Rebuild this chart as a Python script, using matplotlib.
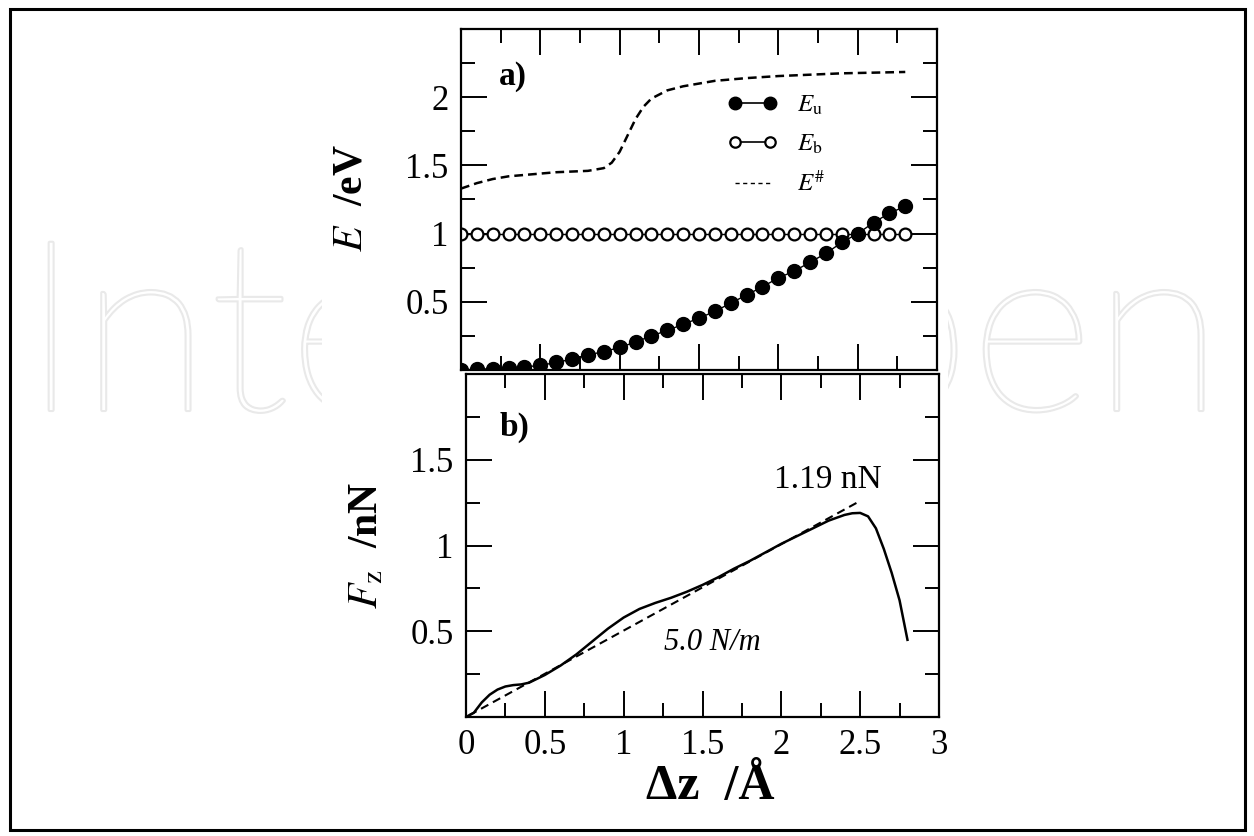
import matplotlib.pyplot as plt
import matplotlib.patheffects as pe
from matplotlib.patches import Rectangle
from matplotlib.lines import Line2D

plt.rcParams['font.family'] = ['Liberation Serif', 'DejaVu Serif']
plt.rcParams['mathtext.fontset'] = 'stix'

# panel a) energies vs displacement
dz_a = [0.0, 0.1, 0.2, 0.3, 0.4, 0.5, 0.6, 0.7, 0.8, 0.9, 1.0, 1.1, 1.2, 1.3, 1.4,
        1.5, 1.6, 1.7, 1.8, 1.9, 2.0, 2.1, 2.2, 2.3, 2.4, 2.5, 2.6, 2.7, 2.8]
E_u = [0.0, 0.005, 0.01, 0.015, 0.022, 0.034, 0.055, 0.08, 0.11, 0.135, 0.165,
       0.205, 0.25, 0.29, 0.335, 0.38, 0.43, 0.49, 0.55, 0.61, 0.675, 0.725,
       0.79, 0.855, 0.935, 1.0, 1.08, 1.15, 1.2]
E_b = [1.0] * len(dz_a)

dz_sharp = [0.0, 0.1, 0.2, 0.3, 0.4, 0.5, 0.6, 0.7, 0.8, 0.9, 0.95, 1.0, 1.05, 1.1,
            1.15, 1.2, 1.3, 1.4, 1.5, 1.6, 1.8, 2.0, 2.2, 2.4, 2.6, 2.8]
E_sharp = [1.33, 1.37, 1.40, 1.42, 1.43, 1.44, 1.45, 1.455, 1.46, 1.48, 1.52, 1.6,
           1.72, 1.84, 1.93, 1.99, 2.05, 2.08, 2.1, 2.12, 2.14, 2.155, 2.165,
           2.175, 2.18, 2.185]

# panel b) force vs displacement
dz_b = [0.0, 0.05, 0.1, 0.15, 0.2, 0.25, 0.3, 0.35, 0.4, 0.5, 0.6, 0.7, 0.8, 0.9,
        1.0, 1.1, 1.2, 1.3, 1.4, 1.5, 1.6, 1.7, 1.8, 1.9, 2.0, 2.1, 2.2, 2.3, 2.4,
        2.45, 2.5, 2.55, 2.6, 2.65, 2.7, 2.75, 2.8]
F_z = [0.0, 0.025, 0.085, 0.13, 0.16, 0.178, 0.186, 0.19, 0.2, 0.245, 0.3, 0.365,
       0.44, 0.515, 0.58, 0.63, 0.665, 0.695, 0.73, 0.77, 0.815, 0.865, 0.91,
       0.96, 1.01, 1.055, 1.1, 1.145, 1.178, 1.188, 1.19, 1.17, 1.1, 0.98, 0.84,
       0.68, 0.45]
fit_x = [0.02, 2.5]
fit_F = [0.01, 1.26]

x_ticks = [0, 0.5, 1, 1.5, 2, 2.5, 3]
x_labels = ['0', '0.5', '1', '1.5', '2', '2.5', '3']

W, H = 1254, 836
fig = plt.figure(figsize=(W / 100, H / 100), dpi=100)


def px_axes(l, t, r, b):
    return fig.add_axes([l / W, 1 - b / H, (r - l) / W, (b - t) / H])


def fx(x):
    return x / W


def fy(y):
    return 1 - y / H


# faint watermark behind the figure
fig.text(fx(22), fy(410), 'IntechOpen', fontsize=172, family='Lato',
         weight='light', color='white', zorder=-3,
         path_effects=[pe.withStroke(linewidth=3, foreground='#e9e9e9')])
fig.add_artist(Rectangle((fx(322), fy(826)), fx(948 - 322), (826 - 14) / H,
                         transform=fig.transFigure, facecolor='white',
                         edgecolor='none', zorder=-2))
fig.add_artist(Rectangle((fx(10), fy(830)), fx(1245 - 10), (830 - 9) / H,
                         transform=fig.transFigure, fill=False,
                         edgecolor='black', lw=2.2, zorder=5))


def style(ax, ylim, yticks, ylabels):
    ax.set_xlim(0, 3)
    ax.set_ylim(*ylim)
    ax.set_xticks(x_ticks)
    ax.set_xticks([0.25 + 0.5 * i for i in range(6)], minor=True)
    ax.set_yticks(yticks)
    ax.set_yticklabels(ylabels)
    ax.set_yticks([0.25 + 0.5 * i for i in range(int(ylim[1] / 0.5))], minor=True)
    ax.tick_params(which='both', direction='in', top=True, right=True,
                   width=1.4, labelsize=25, colors='black')
    ax.tick_params(which='major', length=19, pad=9)
    ax.tick_params(which='minor', length=10)
    for s in ax.spines.values():
        s.set_linewidth(1.6)


ax1 = px_axes(461, 29, 937, 370)
ax1.plot(dz_a, E_b, '-', color='k', lw=1.0, marker='o', mfc='white', mec='k',
         ms=8.5, mew=1.6)
ax1.plot(dz_a, E_u, '-', color='k', lw=1.0, marker='o', mfc='k', mec='k', ms=10)
ax1.plot(dz_sharp, E_sharp, color='k', lw=1.8, dashes=(3.5, 2))
style(ax1, (0, 2.5), [0.5, 1, 1.5, 2], ['0.5', '1', '1.5', '2'])
ax1.set_xticklabels([])

handles = [
    Line2D([], [], color='k', lw=1.2, marker='o', mfc='k', ms=9),
    Line2D([], [], color='k', lw=1.2, marker='o', mfc='white', mew=1.6, ms=7.5),
    Line2D([], [], color='k', lw=1.0, dashes=(3, 2.5)),
]
ax1.legend(handles, [r'$E_{\rm u}$', r'$E_{\rm b}$', r'$E^{\#}$'],
           loc='upper left', bbox_to_anchor=(0.559, 0.81), frameon=False,
           fontsize=18, numpoints=2, handlelength=2.0, handletextpad=0.8,
           labelspacing=0.62, borderpad=0, borderaxespad=0)

ax2 = px_axes(466, 374, 939, 717)
ax2.plot(dz_b, F_z, '-', color='k', lw=1.8)
ax2.plot(fit_x, fit_F, color='k', lw=1.5, dashes=(4, 2.5))
style(ax2, (0, 2), [0.5, 1, 1.5], ['0.5', '1', '1.5'])
ax2.set_xticklabels(x_labels)

fig.text(fx(513), fy(76), 'a)', fontsize=24, weight='bold', ha='center', va='center')
fig.text(fx(514), fy(427), 'b)', fontsize=24, weight='bold', ha='center', va='center')
fig.text(fx(828), fy(480), '1.19 nN', fontsize=24, ha='center', va='center')
fig.text(fx(712), fy(643), '5.0 N/m', fontsize=22, style='italic',
         ha='center', va='center')

fig.text(fx(352), fy(198), r'$E$  /eV', fontsize=30, weight='bold', rotation=90,
         ha='center', va='center')
fig.text(fx(367), fy(545), r'$F_{\rm z}$  /nN', fontsize=30, weight='bold',
         rotation=90, ha='center', va='center')
fig.text(fx(710), fy(787), 'Δz  /Å', fontsize=36, weight='bold',
         ha='center', va='center')

fig.savefig('out.png', dpi=100)
